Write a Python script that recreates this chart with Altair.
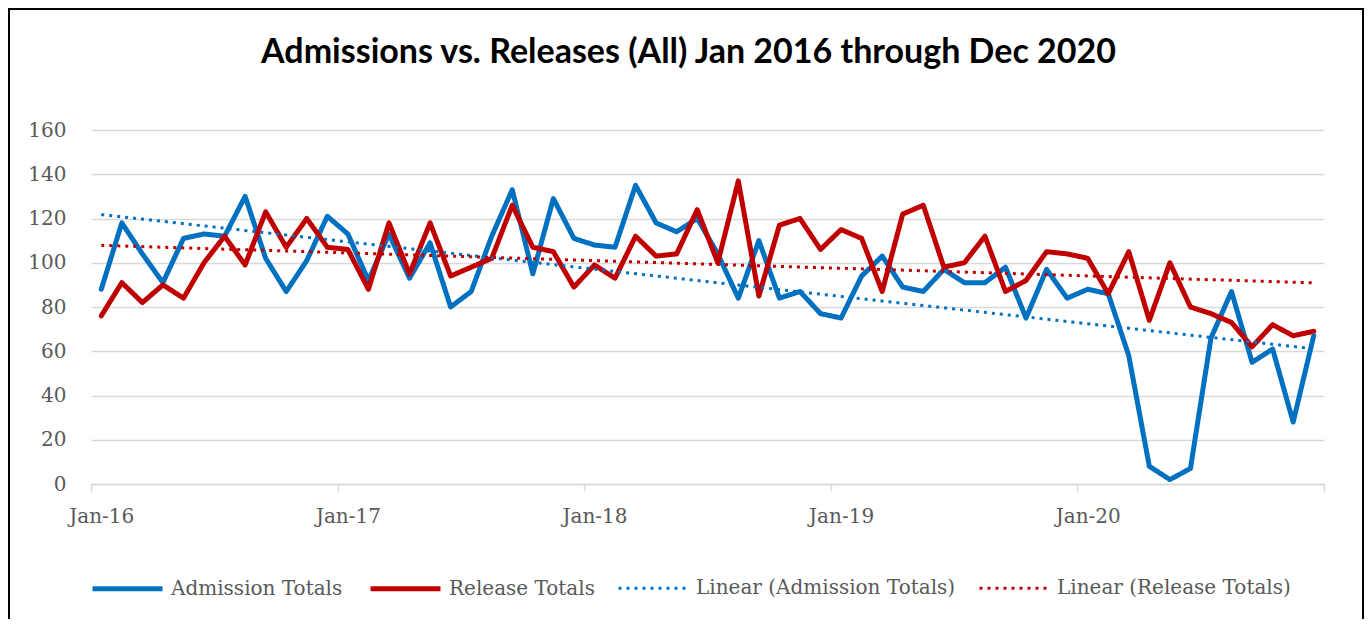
import altair as alt
import pandas as pd

# Monthly totals, Jan 2016 .. Dec 2020
admissions = [88, 118, 104, 91, 111, 113, 112, 130, 102, 87, 101, 121,
              113, 92, 113, 93, 109, 80, 87, 112, 133, 95, 129, 111,
              108, 107, 135, 118, 114, 120, 104, 84, 110, 84, 87, 77,
              75, 94, 103, 89, 87, 97, 91, 91, 98, 75, 97, 84,
              88, 86, 58, 8, 2, 7, 66, 87, 55, 61, 28, 67]
releases = [76, 91, 82, 90, 84, 100, 112, 99, 123, 107, 120, 107,
            106, 88, 118, 95, 118, 94, 98, 102, 126, 107, 105, 89,
            99, 93, 112, 103, 104, 124, 100, 137, 85, 117, 120, 106,
            115, 111, 87, 122, 126, 98, 100, 112, 87, 92, 105, 104,
            102, 86, 105, 74, 100, 80, 77, 73, 62, 72, 67, 69]
tick_labels = ["Jan-16", "Jan-17", "Jan-18", "Jan-19", "Jan-20", ""]
series_names = ["Admission Totals", "Release Totals",
                "Linear (Admission Totals)", "Linear (Release Totals)"]
series_colors = ["#0070C0", "#C00000", "#0070C0", "#C00000"]
title_text = "Admissions vs. Releases (All) Jan 2016 through Dec 2020"

n = len(admissions)
df = pd.DataFrame({
    "t": [i + 0.5 for i in range(n)] * 2,
    "value": admissions + releases,
    "series": ["Admission Totals"] * n + ["Release Totals"] * n,
})

W, H = 1233, 354
LABEL_FONT = "DejaVu Serif"
GRAY = "#595959"
GRID = "#d9d9d9"

label_expr = "[" + ",".join("'%s'" % s for s in tick_labels) + "][round(datum.value/12)]"

leg = alt.Legend(
    orient="none", legendX=-1, legendY=421, direction="horizontal",
    title=None, symbolType="stroke", symbolSize=4900,
    labelFont=LABEL_FONT, labelFontSize=20, labelColor=GRAY,
    labelOffset=6, columnPadding=17, padding=0, labelLimit=0,
)

x_enc = alt.X("t:Q", scale=alt.Scale(domain=[0, 60], nice=False, zero=False),
              axis=alt.Axis(values=[0, 12, 24, 36, 48, 60], labelExpr=label_expr,
                            title=None, grid=False, domainColor=GRID, domainWidth=1.5,
                            tickColor=GRID, tickWidth=1.5, tickSize=7,
                            labelOffset=10.3, labelFlush=False, labelOverlap=False,
                            labelBound=False, labelPadding=15,
                            labelFont=LABEL_FONT, labelFontSize=20, labelColor=GRAY))
y_enc = alt.Y("value:Q", scale=alt.Scale(domain=[0, 160], nice=False),
              axis=alt.Axis(values=list(range(0, 161, 20)), title=None, domain=False,
                            ticks=False, tickSize=0, gridColor=GRID, gridWidth=1.5,
                            labelPadding=25, labelFont=LABEL_FONT, labelFontSize=20,
                            labelColor=GRAY))
color_enc = alt.Color("label:N", scale=alt.Scale(domain=series_names, range=series_colors),
                      legend=leg)
dash_enc = alt.StrokeDash("label:N",
                          scale=alt.Scale(domain=series_names,
                                          range=[[1, 0], [1, 0], [3, 5], [3, 5]]),
                          legend=leg)
width_enc = alt.StrokeWidth("label:N",
                            scale=alt.Scale(type="ordinal", domain=series_names,
                                            range=[5, 5, 3, 3]),
                            legend=leg)

base = alt.Chart(df)

lines = base.transform_calculate(label="datum.series").mark_line(
    strokeCap="round", strokeJoin="round"
).encode(x=x_enc, y=y_enc, color=color_enc, strokeDash=dash_enc, strokeWidth=width_enc)

trends = base.transform_regression(
    "t", "value", groupby=["series"]
).transform_calculate(
    label="'Linear (' + datum.series + ')'"
).mark_line(strokeCap="butt").encode(
    x=x_enc, y=y_enc, color=color_enc, strokeDash=dash_enc, strokeWidth=width_enc)

border = alt.Chart(pd.DataFrame({"k": [0]})).mark_rect(
    fillOpacity=0, stroke="black", strokeWidth=2
).encode(x=alt.value(-82), x2=alt.value(1272), y=alt.value(-121), y2=alt.value(500))

chart = alt.layer(border, lines, trends).properties(
    width=W, height=H,
    padding={"left": 83, "top": 122, "right": 40, "bottom": 135},
    autosize=alt.AutoSizeParams(type="none"),
    background="white",
    title=alt.TitleParams(title_text, font="Lato", fontSize=34, fontWeight="bold",
                          color="black", anchor="middle", dx=-19, offset=-89,
                          baseline="alphabetic"),
).configure_view(strokeWidth=0)

chart.save("out.html", embed_options={"renderer": "svg", "actions": False})
